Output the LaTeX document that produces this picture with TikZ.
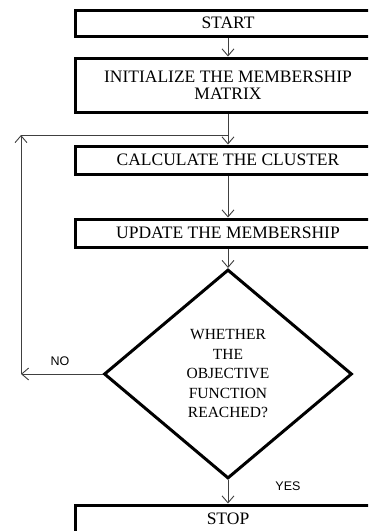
\documentclass[tikz,border=0pt]{standalone}
\usepackage{fontspec}
\setmainfont{Liberation Serif}
\newfontfamily\labelfont{Liberation Sans}
\usetikzlibrary{arrows.meta}
\usetikzlibrary{shapes.geometric}

\begin{document}
\begin{tikzpicture}
	 [> = {Straight Barb[length=7pt,width=12pt]},
	x=1pt, y=-1pt,
	every node/.style={font=\fontsize{17.5}{17}\selectfont},
	box/.style = {draw, line width=3pt, minimum width=306pt, inner sep=0pt, align=center},
	decide/.style = {draw, diamond, line width=3pt, minimum width=248pt, minimum height=209pt, inner sep=0pt, align=center, font=\fontsize{15.5}{19.5}\selectfont},
	flow/.style = {->, line width=0.9pt, draw=black!75},
	tag/.style = {font=\labelfont\fontsize{12.5}{13}\selectfont}
	]
	\useasboundingbox (0,0) rectangle (368,531);
	\clip (0,0) rectangle (368,531);

	\node[box, minimum height=26pt] (start) at (228,23) {START};
	\node[box, minimum height=54pt] (init) at (228,85) {INITIALIZE THE MEMBERSHIP\\MATRIX};
	\node[box, minimum height=28pt] (calc) at (228,160) {CALCULATE THE CLUSTER};
	\node[box, minimum height=28pt] (update) at (228,233) {UPDATE THE MEMBERSHIP};
	\node[decide] (check) at (228,374) {WHETHER\\THE\\OBJECTIVE\\FUNCTION\\REACHED?};
	\node[box, minimum height=28pt] (stop) at (228,519) {STOP};

	\coordinate (noend) at (21,374);
	\coordinate (loopup) at (21,135);

	\draw[flow] (start) -- (init);
	\draw[flow] (init) -- (calc);
	\draw[flow] (calc) -- (update);
	\draw[flow] (update) -- (check);
	\draw[flow] (check) -- (stop);

	\draw[flow] (check.west) -- (noend);
	\draw[flow] (noend) -- (loopup);
	\draw[line width=0.9pt, draw=black!75] (loopup) -- (loopup -| calc.north);

	\node[tag] (no) at (60,361) {NO};
	\node[tag] (yes) at (288,486) {YES};
\end{tikzpicture}
\end{document}
